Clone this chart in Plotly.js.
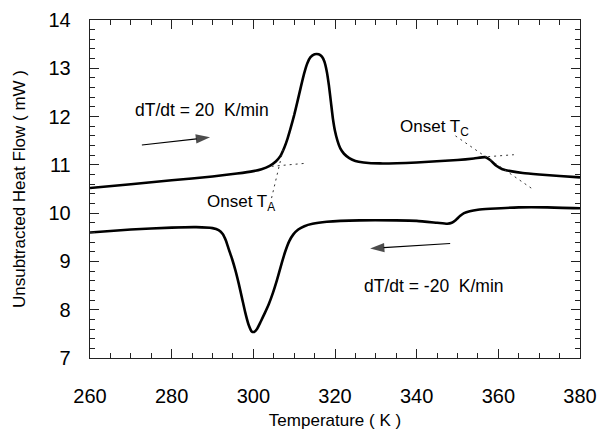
<!DOCTYPE html>
<html>
<head>
<meta charset="utf-8">
<script src="https://cdn.plot.ly/plotly-3.0.1.min.js"></script>
<style>html,body{margin:0;padding:0;background:#fff;}#chart{width:600px;height:430px;}</style>
</head>
<body>
<div id="chart"></div>
<script>
// Heating scan (dT/dt = 20 K/min)
const heatT = [260, 270, 280, 290, 296, 300, 302, 304, 305.5, 306.6, 307.6, 308.4, 309.2, 310, 310.8, 311.6, 312.4, 313.2, 314, 315, 316, 316.8, 317.4, 318, 318.5, 319, 319.5, 320, 320.6, 321.3, 322.2, 323.5, 325, 327, 331, 340, 350, 354, 356.8, 358, 359.5, 361, 363, 366, 370, 375, 380];
const heatQ = [10.52, 10.6, 10.68, 10.76, 10.82, 10.87, 10.91, 10.98, 11.07, 11.18, 11.36, 11.55, 11.78, 12.03, 12.31, 12.6, 12.88, 13.1, 13.23, 13.29, 13.29, 13.24, 13.14, 12.93, 12.65, 12.3, 11.95, 11.7, 11.5, 11.34, 11.23, 11.14, 11.08, 11.05, 11.03, 11.05, 11.1, 11.13, 11.16, 11.1, 10.98, 10.91, 10.87, 10.83, 10.8, 10.77, 10.74];
// Cooling scan (dT/dt = -20 K/min)
const coolT = [260, 270, 280, 286, 290, 291.5, 292.5, 293.3, 294, 294.8, 295.6, 296.4, 297.2, 298, 298.8, 299.6, 300.2, 300.9, 301.8, 302.8, 303.8, 304.8, 305.8, 306.8, 307.8, 308.8, 309.8, 311, 312.5, 314.5, 318, 326, 335, 340, 345, 347.5, 348.6, 349.6, 350.6, 351.6, 353, 355, 358, 365, 372, 380];
const coolQ = [9.6, 9.66, 9.7, 9.71, 9.69, 9.65, 9.57, 9.43, 9.25, 9.05, 8.82, 8.55, 8.25, 7.95, 7.7, 7.55, 7.54, 7.6, 7.75, 7.93, 8.12, 8.35, 8.62, 8.92, 9.2, 9.42, 9.56, 9.66, 9.73, 9.78, 9.82, 9.85, 9.85, 9.84, 9.8, 9.78, 9.8, 9.86, 9.94, 10.0, 10.04, 10.07, 10.09, 10.12, 10.12, 10.1];
// Onset construction lines (dotted)
const onsetA_baseT = [304.5, 312.5];
const onsetA_baseQ = [10.97, 11.03];
const onsetA_edgeT = [307.3, 304.4];
const onsetA_edgeQ = [11.32, 10.29];
const onsetC_slopeT = [349.5, 368.2];
const onsetC_slopeQ = [11.6, 10.51];
const onsetC_baseT = [357.5, 363.8];
const onsetC_baseQ = [11.17, 11.21];
// Scan-direction arrows (tail, head)
const heatArrowT = [272.7, 289.4];
const heatArrowQ = [11.41, 11.57];
const coolArrowT = [348.2, 328.6];
const coolArrowQ = [9.37, 9.27];
// Axis ticks
const xTicks = [260, 280, 300, 320, 340, 360, 380];
const yTicks = [7, 8, 9, 10, 11, 12, 13, 14];

const FONT = 'Liberation Sans, Arial, Helvetica, sans-serif';
const curve = {mode: 'lines', line: {color: '#000', width: 2.6, shape: 'spline', smoothing: 0.5}, showlegend: false, hoverinfo: 'skip'};
const dots = {mode: 'lines', line: {color: '#333', width: 1, dash: '2px,4px'}, showlegend: false, hoverinfo: 'skip'};
const arrow = {mode: 'lines+markers', line: {color: '#000', width: 1.1},
  marker: {symbol: 'arrow', size: [0, 15], color: '#000', angleref: 'previous', line: {width: 0}},
  showlegend: false, hoverinfo: 'skip'};

const data = [
  Object.assign({x: heatT, y: heatQ}, curve),
  Object.assign({x: coolT, y: coolQ}, curve),
  Object.assign({x: onsetA_baseT, y: onsetA_baseQ}, dots),
  Object.assign({x: onsetA_edgeT, y: onsetA_edgeQ}, dots),
  Object.assign({x: onsetC_slopeT, y: onsetC_slopeQ}, dots),
  Object.assign({x: onsetC_baseT, y: onsetC_baseQ}, dots),
  Object.assign({x: heatArrowT, y: heatArrowQ}, arrow),
  Object.assign({x: coolArrowT, y: coolArrowQ}, arrow)
];

const axisCommon = {
  showgrid: false, zeroline: false, showline: true, linecolor: '#222', linewidth: 1.3,
  mirror: 'allticks', ticks: 'inside', ticklen: 9, tickwidth: 1, tickcolor: '#222',
  tickfont: {family: FONT, size: 20, color: '#000'}
};

const layout = {
  width: 600, height: 430,
  margin: {l: 90, r: 20, t: 20, b: 72},
  paper_bgcolor: '#fff', plot_bgcolor: '#fff',
  font: {family: FONT, color: '#000'},
  xaxis: Object.assign({}, axisCommon, {
    range: [260, 380], tickvals: xTicks, ticktext: xTicks.map(String),
    minor: {dtick: 5, tick0: 260, ticks: 'inside', ticklen: 5, tickcolor: '#222', tickwidth: 1},
    ticklabelstandoff: 20,
    title: {text: 'Temperature ( K )', font: {family: FONT, size: 17, color: '#000'}, standoff: 8}
  }),
  yaxis: Object.assign({}, axisCommon, {
    range: [7, 14], tickvals: yTicks, ticktext: yTicks.map(String),
    minor: {dtick: 0.2, tick0: 7, ticks: 'inside', ticklen: 5, tickcolor: '#222', tickwidth: 1},
    ticklabelstandoff: 14,
    title: {text: 'Unsubtracted Heat Flow ( mW )', font: {family: FONT, size: 17, color: '#000'}, standoff: 18}
  }),
  annotations: [
    {x: 270.5, y: 12.13, xanchor: 'left', yanchor: 'middle', showarrow: false, text: 'dT/dt = 20 \u00a0K/min', font: {family: FONT, size: 17.5}},
    {x: 326.7, y: 8.5, xanchor: 'left', yanchor: 'middle', showarrow: false, text: 'dT/dt = -20 \u00a0K/min', font: {family: FONT, size: 17.5}},
    {x: 288.2, y: 10.2, xanchor: 'left', yanchor: 'middle', showarrow: false, text: 'Onset T<sub>A</sub>', font: {family: FONT, size: 17}},
    {x: 335.5, y: 11.76, xanchor: 'left', yanchor: 'middle', showarrow: false, text: 'Onset T<sub>C</sub>', font: {family: FONT, size: 17}}
  ]
};

Plotly.newPlot('chart', data, layout, {staticPlot: true, displayModeBar: false});
</script>
</body>
</html>
